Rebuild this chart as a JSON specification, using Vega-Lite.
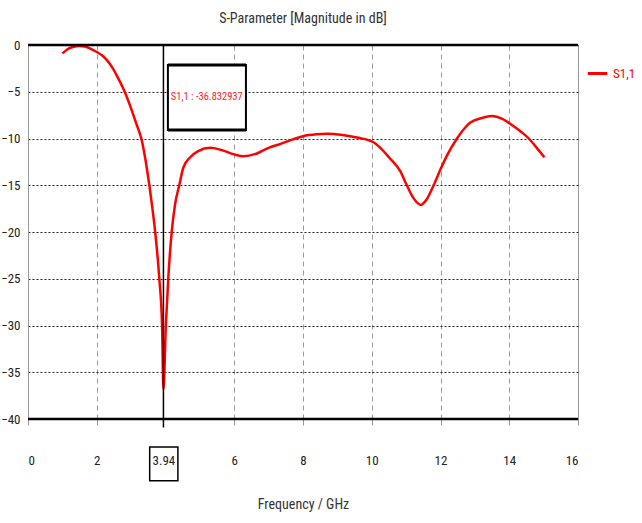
{
  "$schema": "https://vega.github.io/schema/vega-lite/v6.json",
  "autosize": "none",
  "width": 550,
  "height": 374,
  "padding": {"left": 28, "top": 45, "right": 64, "bottom": 104},
  "background": "white",
  "title": {
    "text": "S-Parameter [Magnitude in dB]",
    "anchor": "middle",
    "offset": 13,
    "font": "Roboto Condensed, Roboto",
    "fontSize": 14,
    "fontWeight": "normal",
    "color": "#333333"
  },
  "config": {
    "view": {"stroke": "#9a9a9a", "strokeWidth": 1}
  },
  "datasets": {
    "curve": [
      {"freq": 1.0, "s11": -0.9, "series": "S1,1"},
      {"freq": 1.15, "s11": -0.45, "series": "S1,1"},
      {"freq": 1.3, "s11": -0.22, "series": "S1,1"},
      {"freq": 1.5, "s11": -0.1, "series": "S1,1"},
      {"freq": 1.65, "s11": -0.15, "series": "S1,1"},
      {"freq": 1.8, "s11": -0.35, "series": "S1,1"},
      {"freq": 2.0, "s11": -0.75, "series": "S1,1"},
      {"freq": 2.15, "s11": -1.1, "series": "S1,1"},
      {"freq": 2.3, "s11": -1.65, "series": "S1,1"},
      {"freq": 2.45, "s11": -2.4, "series": "S1,1"},
      {"freq": 2.6, "s11": -3.4, "series": "S1,1"},
      {"freq": 2.8, "s11": -4.9, "series": "S1,1"},
      {"freq": 3.0, "s11": -6.8, "series": "S1,1"},
      {"freq": 3.15, "s11": -8.4, "series": "S1,1"},
      {"freq": 3.31, "s11": -10.2, "series": "S1,1"},
      {"freq": 3.4, "s11": -11.9, "series": "S1,1"},
      {"freq": 3.47, "s11": -13.5, "series": "S1,1"},
      {"freq": 3.53, "s11": -15.0, "series": "S1,1"},
      {"freq": 3.62, "s11": -17.5, "series": "S1,1"},
      {"freq": 3.7, "s11": -20.0, "series": "S1,1"},
      {"freq": 3.82, "s11": -25.0, "series": "S1,1"},
      {"freq": 3.9, "s11": -30.0, "series": "S1,1"},
      {"freq": 3.94, "s11": -36.832937, "series": "S1,1"},
      {"freq": 4.01, "s11": -30.0, "series": "S1,1"},
      {"freq": 4.08, "s11": -25.0, "series": "S1,1"},
      {"freq": 4.18, "s11": -20.0, "series": "S1,1"},
      {"freq": 4.28, "s11": -17.0, "series": "S1,1"},
      {"freq": 4.4, "s11": -15.0, "series": "S1,1"},
      {"freq": 4.52, "s11": -13.1, "series": "S1,1"},
      {"freq": 4.72, "s11": -12.0, "series": "S1,1"},
      {"freq": 4.95, "s11": -11.35, "series": "S1,1"},
      {"freq": 5.3, "s11": -11.0, "series": "S1,1"},
      {"freq": 5.6, "s11": -11.2, "series": "S1,1"},
      {"freq": 6.0, "s11": -11.7, "series": "S1,1"},
      {"freq": 6.26, "s11": -11.9, "series": "S1,1"},
      {"freq": 6.66, "s11": -11.6, "series": "S1,1"},
      {"freq": 7.0, "s11": -11.0, "series": "S1,1"},
      {"freq": 7.33, "s11": -10.6, "series": "S1,1"},
      {"freq": 7.7, "s11": -10.1, "series": "S1,1"},
      {"freq": 8.0, "s11": -9.75, "series": "S1,1"},
      {"freq": 8.4, "s11": -9.55, "series": "S1,1"},
      {"freq": 8.7, "s11": -9.5, "series": "S1,1"},
      {"freq": 9.1, "s11": -9.6, "series": "S1,1"},
      {"freq": 9.57, "s11": -9.9, "series": "S1,1"},
      {"freq": 10.05, "s11": -10.4, "series": "S1,1"},
      {"freq": 10.25, "s11": -11.0, "series": "S1,1"},
      {"freq": 10.5, "s11": -12.0, "series": "S1,1"},
      {"freq": 10.83, "s11": -13.5, "series": "S1,1"},
      {"freq": 11.02, "s11": -15.0, "series": "S1,1"},
      {"freq": 11.2, "s11": -16.3, "series": "S1,1"},
      {"freq": 11.43, "s11": -17.1, "series": "S1,1"},
      {"freq": 11.6, "s11": -16.5, "series": "S1,1"},
      {"freq": 11.8, "s11": -15.0, "series": "S1,1"},
      {"freq": 12.0, "s11": -13.3, "series": "S1,1"},
      {"freq": 12.19, "s11": -11.8, "series": "S1,1"},
      {"freq": 12.48, "s11": -10.0, "series": "S1,1"},
      {"freq": 12.7, "s11": -8.9, "series": "S1,1"},
      {"freq": 12.87, "s11": -8.3, "series": "S1,1"},
      {"freq": 13.2, "s11": -7.8, "series": "S1,1"},
      {"freq": 13.5, "s11": -7.6, "series": "S1,1"},
      {"freq": 13.8, "s11": -7.9, "series": "S1,1"},
      {"freq": 14.13, "s11": -8.7, "series": "S1,1"},
      {"freq": 14.35, "s11": -9.3, "series": "S1,1"},
      {"freq": 14.57, "s11": -10.0, "series": "S1,1"},
      {"freq": 14.8, "s11": -11.0, "series": "S1,1"},
      {"freq": 15.02, "s11": -12.0, "series": "S1,1"}
    ],
    "marker": [
      {"freq": 3.94, "s11": -36.832937, "label": "S1,1 : -36.832937"}
    ]
  },
  "layer": [
    {
      "data": {"name": "curve"},
      "mark": {"type": "line", "strokeWidth": 2.5, "interpolate": "monotone", "clip": true},
      "encoding": {
        "x": {
          "field": "freq",
          "type": "quantitative",
          "scale": {"domain": [0, 16], "nice": false, "zero": false},
          "axis": {
            "title": "Frequency / GHz",
            "values": [0, 2, 3.94, 6, 8, 10, 12, 14, 16],
            "labelExpr": "datum.value == 3.94 ? '3.94' : format(datum.value, 'd')",
            "domain": false,
            "grid": true,
            "gridColor": "#9a9a9a",
            "gridDash": [5, 4],
            "gridWidth": 1,
            "ticks": true,
            "tickColor": "#9a9a9a",
            "tickSize": 6,
            "labelPadding": 29,
            "labelFontSize": 13,
            "labelColor": "#222222",
            "labelFont": "Roboto Condensed, Roboto",
            "titleFont": "Roboto Condensed, Roboto",
            "titleFontSize": 14,
            "titleFontWeight": "normal",
            "titleColor": "#333333",
            "titlePadding": 30
          }
        },
        "y": {
          "field": "s11",
          "type": "quantitative",
          "scale": {"domain": [-40, 0], "nice": false, "zero": false},
          "axis": {
            "title": null,
            "values": [0, -5, -10, -15, -20, -25, -30, -35, -40],
            "domain": true,
            "domainColor": "#9a9a9a",
            "domainWidth": 1,
            "grid": true,
            "gridColor": "#222222",
            "gridDash": [2, 2],
            "gridWidth": 1.2,
            "ticks": false,
            "labelPadding": 8,
            "labelFontSize": 13,
            "labelColor": "#222222",
            "labelFont": "Roboto Condensed, Roboto"
          }
        },
        "color": {
          "field": "series",
          "type": "nominal",
          "scale": {"domain": ["S1,1"], "range": ["#ff0000"]},
          "legend": {
            "title": null,
            "orient": "none",
            "legendX": 558,
            "legendY": 17,
            "symbolType": "stroke",
            "symbolStrokeWidth": 3,
            "symbolSize": 380,
            "labelColor": "#ff0000",
            "labelFontSize": 13,
            "labelFont": "Roboto Condensed, Roboto"
          }
        }
      }
    },
    {
      "data": {"values": [{}]},
      "mark": {"type": "rule", "color": "#000000", "strokeWidth": 2.5},
      "encoding": {"y": {"datum": 0}}
    },
    {
      "data": {"values": [{}]},
      "mark": {"type": "rule", "color": "#000000", "strokeWidth": 2.5},
      "encoding": {"y": {"datum": -40}}
    },
    {
      "data": {"values": [{}]},
      "mark": {"type": "rule", "color": "#000000", "strokeWidth": 1.5},
      "encoding": {"x": {"datum": 3.94}, "y": {"datum": 0}, "y2": {"datum": -40.9}}
    },
    {
      "data": {"values": [{}]},
      "mark": {"type": "rect", "fill": "#ffffff", "stroke": "#000000", "strokeWidth": 2},
      "encoding": {
        "x": {"datum": 4.07},
        "x2": {"datum": 6.34},
        "y": {"datum": -2.15},
        "y2": {"datum": -9.1}
      }
    },
    {
      "data": {"values": [{}]},
      "mark": {"type": "rule", "color": "#000000", "strokeWidth": 3},
      "encoding": {"x": {"datum": 4.07}, "x2": {"datum": 6.34}, "y": {"datum": -2.15}}
    },
    {
      "data": {"values": [{}]},
      "mark": {"type": "rule", "color": "#000000", "strokeWidth": 3},
      "encoding": {"x": {"datum": 4.07}, "x2": {"datum": 6.34}, "y": {"datum": -9.1}}
    },
    {
      "data": {"name": "marker"},
      "mark": {
        "type": "text",
        "color": "#ff2020",
        "fontSize": 10.5,
        "align": "center",
        "baseline": "middle",
        "font": "Roboto Condensed, Roboto"
      },
      "encoding": {
        "x": {"datum": 5.2},
        "y": {"datum": -5.6},
        "text": {"field": "label", "type": "nominal"}
      }
    },
    {
      "data": {"values": [{}]},
      "mark": {"type": "rect", "fill": null, "stroke": "#000000", "strokeWidth": 1.5},
      "encoding": {
        "x": {"datum": 3.54},
        "x2": {"datum": 4.36},
        "y": {"datum": -43.0},
        "y2": {"datum": -46.6}
      }
    }
  ]
}
